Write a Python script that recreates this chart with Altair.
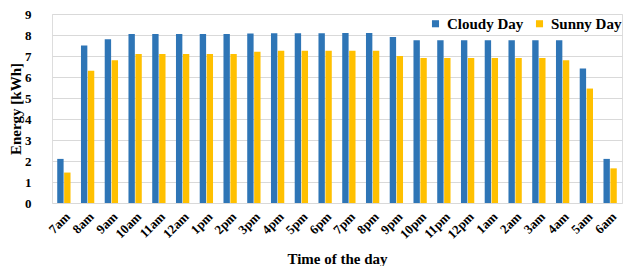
import altair as alt
import pandas as pd

hours = ["7am", "8am", "9am", "10am", "11am", "12am", "1pm", "2pm", "3pm", "4pm", "5pm", "6pm",
         "7pm", "8pm", "9pm", "10pm", "11pm", "12pm", "1am", "2am", "3am", "4am", "5am", "6am"]
cloudy = [2.1, 7.5, 7.8, 8.05, 8.05, 8.05, 8.05, 8.05, 8.07, 8.08, 8.08, 8.08,
          8.1, 8.1, 7.9, 7.75, 7.75, 7.75, 7.75, 7.75, 7.75, 7.75, 6.4, 2.1]
sunny = [1.45, 6.3, 6.8, 7.1, 7.1, 7.1, 7.1, 7.1, 7.2, 7.25, 7.25, 7.25,
         7.25, 7.25, 7.0, 6.9, 6.9, 6.9, 6.9, 6.9, 6.9, 6.8, 5.45, 1.65]
series = ["Cloudy Day", "Sunny Day"]
colors = ["#2E75B6", "#FFC000"]

rows = []
for h, c, s in zip(hours, cloudy, sunny):
    rows.append({"hour": h, "series": series[0], "value": c})
    rows.append({"hour": h, "series": series[1], "value": s})
df = pd.DataFrame(rows)

font = "Liberation Serif"

chart = alt.Chart(df).mark_bar().encode(
    x=alt.X("hour:N", sort=hours, scale=alt.Scale(paddingInner=0.44, paddingOuter=0.22),
            axis=alt.Axis(title="Time of the day", labelAngle=-45, labelFont=font,
                          labelFontWeight="bold", labelFontSize=13, labelColor="black",
                          titleFont=font, titleFontWeight="bold", titleFontSize=15,
                          titleColor="black", ticks=False, domain=False, labelPadding=7,
                          titlePadding=10)),
    xOffset=alt.XOffset("series:N", sort=series, scale=alt.Scale(paddingInner=0.08)),
    y=alt.Y("value:Q", scale=alt.Scale(domain=[0, 9]),
            axis=alt.Axis(title="Energy [kWh]", values=list(range(10)), labelFont=font,
                          labelFontWeight="bold", labelFontSize=13, labelColor="black",
                          titleFont=font, titleFontWeight="bold", titleFontSize=15,
                          titleColor="black", ticks=False, domain=False, labelPadding=21,
                          gridColor="#d9d9d9", titlePadding=1)),
    color=alt.Color("series:N", sort=series,
                    scale=alt.Scale(domain=series, range=colors),
                    legend=alt.Legend(title=None, orient="none", legendX=376, legendY=2,
                                      direction="horizontal", symbolType="square",
                                      symbolSize=50, labelFont=font, labelFontWeight="bold",
                                      labelFontSize=15, labelColor="black",
                                      columnPadding=8, labelOffset=4)),
).properties(
    width=570, height=189, autosize="none",
    padding={"left": 44, "top": 6, "right": 1, "bottom": 63}
).configure_view(stroke=None).configure(background="white")

chart.save("out.html", embed_options={"renderer": "svg", "actions": False})
